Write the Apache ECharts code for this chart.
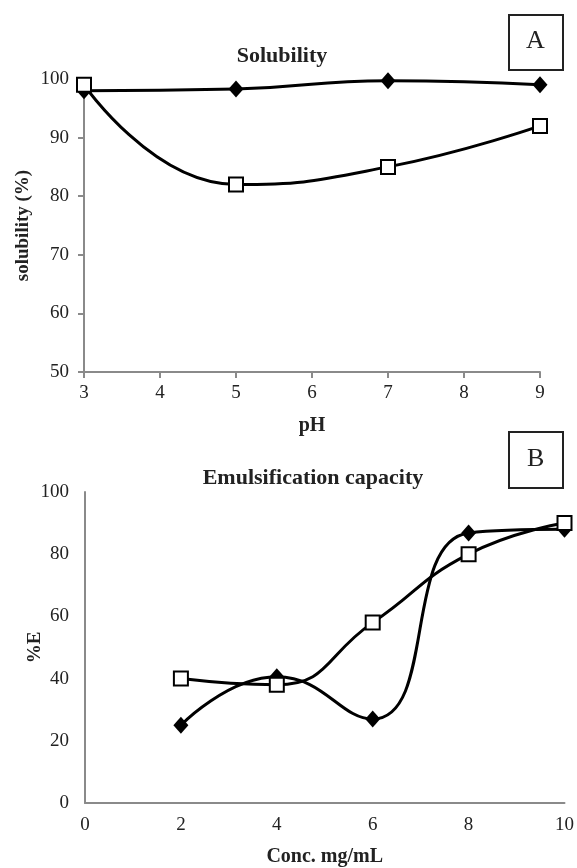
<!DOCTYPE html>
<html>
<head>
<meta charset="utf-8">
<script src="https://cdn.jsdelivr.net/npm/echarts@6/dist/echarts.min.js"></script>
<style>
  html, body { margin: 0; padding: 0; background: #fff; }
  #chart { width: 577px; height: 868px; }
</style>
</head>
<body>
<div id="chart"></div>
<script>
// Panel A - solubility vs pH
const phValues = [3, 5, 7, 9];
const solubilityDiamond = [98, 98.3, 99.7, 99];
const solubilitySquare = [99, 82, 85, 92];

// Panel B - emulsification capacity vs concentration
const concValues = [2, 4, 6, 8, 10];
const emulsionDiamond = [25, 40.6, 27, 86.8, 88];
const emulsionSquare = [40, 38, 58, 80, 90];

const serifFont = '"Liberation Serif", "Times New Roman", serif';
const axisGray = '#8a8a8a';
const smoothness = 0.5;

function pairs(xs, ys) {
    return xs.map((x, i) => [x, ys[i]]);
}

function diamondSeries(xi, yi, data) {
    return {
        type: 'line', xAxisIndex: xi, yAxisIndex: yi, data: data,
        smooth: smoothness, symbol: 'diamond', symbolSize: [15, 17],
        lineStyle: { color: '#000', width: 3 },
        itemStyle: { color: '#000' },
        z: 2
    };
}

function squareSeries(xi, yi, data) {
    return {
        type: 'line', xAxisIndex: xi, yAxisIndex: yi, data: data,
        smooth: smoothness, symbol: 'rect', symbolSize: 14,
        lineStyle: { color: '#000', width: 3 },
        itemStyle: { color: '#fff', borderColor: '#000', borderWidth: 2 },
        z: 3
    };
}

const chart = echarts.init(document.getElementById('chart'));

chart.setOption({
    backgroundColor: '#fff',
    animation: false,
    textStyle: { fontFamily: serifFont },
    title: [
        { text: 'Solubility', left: 277, top: 40, textAlign: 'center',
          textStyle: { fontFamily: serifFont, fontSize: 22, fontWeight: 'bold', color: '#222' } },
        { text: 'Emulsification capacity', left: 308, top: 462, textAlign: 'center',
          textStyle: { fontFamily: serifFont, fontSize: 22, fontWeight: 'bold', color: '#222' } }
    ],
    graphic: [
        { type: 'rect', left: 508, top: 14, shape: { width: 54, height: 55 },
          style: { fill: '#fff', stroke: '#222', lineWidth: 2 } },
        { type: 'text', left: 526, top: 28,
          style: { text: 'A', font: '26px ' + serifFont, fill: '#222' } },
        { type: 'rect', left: 508, top: 431, shape: { width: 54, height: 56 },
          style: { fill: '#fff', stroke: '#222', lineWidth: 2 } },
        { type: 'text', left: 527, top: 446,
          style: { text: 'B', font: '26px ' + serifFont, fill: '#222' } }
    ],
    grid: [
        { left: 84, right: 37, top: 79, height: 293 },
        { left: 85, right: 12, top: 492, height: 314 }
    ],
    xAxis: [
        {
            gridIndex: 0, type: 'value', min: 3, max: 9, interval: 1,
            name: 'pH', nameLocation: 'middle', nameGap: 44, nameMoveOverlap: false,
            nameTextStyle: { fontFamily: serifFont, fontSize: 20, fontWeight: 'bold', color: '#222' },
            axisLine: { lineStyle: { color: axisGray, width: 2 } },
            axisTick: { show: true, length: 6, lineStyle: { color: axisGray, width: 2 } },
            axisLabel: { fontFamily: serifFont, fontSize: 19, color: '#222', margin: 12 },
            splitLine: { show: false }
        },
        {
            gridIndex: 1, type: 'value', min: 0, max: 10, interval: 2,
            name: 'Conc. mg/mL', nameLocation: 'middle', nameGap: 44, nameMoveOverlap: false,
            nameTextStyle: { fontFamily: serifFont, fontSize: 20, fontWeight: 'bold', color: '#222' },
            axisLine: { lineStyle: { color: axisGray, width: 2 } },
            axisTick: { show: false },
            axisLabel: { fontFamily: serifFont, fontSize: 19, color: '#222', margin: 13 },
            splitLine: { show: false }
        }
    ],
    yAxis: [
        {
            gridIndex: 0, type: 'value', min: 50, max: 100, interval: 10,
            name: 'solubility (%)', nameLocation: 'middle', nameGap: 51, nameRotate: 90,
            nameMoveOverlap: false,
            nameTextStyle: { fontFamily: serifFont, fontSize: 19, fontWeight: 'bold', color: '#222' },
            axisLine: { show: true, lineStyle: { color: axisGray, width: 2 } },
            axisTick: { show: true, length: 6, lineStyle: { color: axisGray, width: 2 } },
            axisLabel: { fontFamily: serifFont, fontSize: 19, color: '#222', margin: 15 },
            splitLine: { show: false }
        },
        {
            gridIndex: 1, type: 'value', min: 0, max: 100, interval: 20,
            name: '%E', nameLocation: 'middle', nameGap: 40, nameRotate: 90,
            nameMoveOverlap: false,
            nameTextStyle: { fontFamily: serifFont, fontSize: 19, fontWeight: 'bold', color: '#222' },
            axisLine: { show: true, lineStyle: { color: axisGray, width: 2 } },
            axisTick: { show: false },
            axisLabel: { fontFamily: serifFont, fontSize: 19, color: '#222', margin: 16 },
            splitLine: { show: false }
        }
    ],
    series: [
        diamondSeries(0, 0, pairs(phValues, solubilityDiamond)),
        squareSeries(0, 0, pairs(phValues, solubilitySquare)),
        diamondSeries(1, 1, pairs(concValues, emulsionDiamond)),
        squareSeries(1, 1, pairs(concValues, emulsionSquare))
    ]
});
</script>
</body>
</html>
